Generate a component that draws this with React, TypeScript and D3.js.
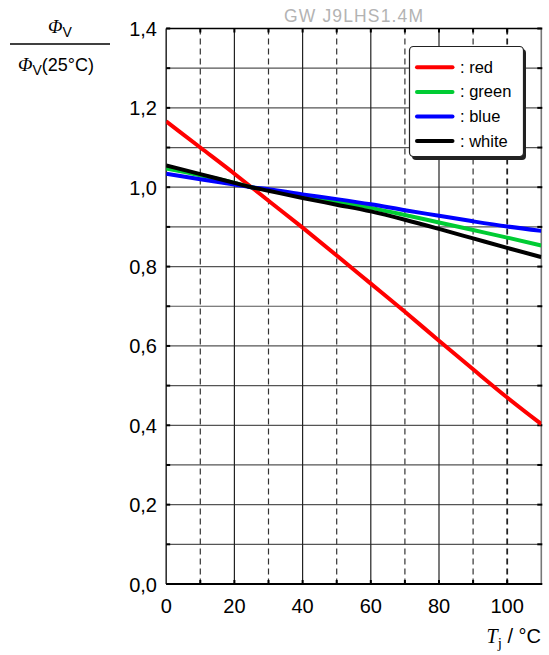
import React from "react";
import * as d3 from "d3";

const temps = [0, 10, 20, 25, 30, 40, 50, 60, 70, 80, 90, 100, 110];
const redValues = [1.166, 1.1, 1.034, 1.0, 0.966, 0.898, 0.828, 0.757, 0.686, 0.613, 0.541, 0.47, 0.403];
const greenValues = [1.047, 1.03, 1.011, 1.0, 0.993, 0.978, 0.963, 0.948, 0.93, 0.911, 0.892, 0.873, 0.853];
const blueValues = [1.034, 1.02, 1.007, 1.0, 0.995, 0.982, 0.97, 0.957, 0.942, 0.928, 0.914, 0.901, 0.89];
const whiteValues = [1.055, 1.033, 1.011, 1.0, 0.991, 0.973, 0.956, 0.939, 0.918, 0.895, 0.871, 0.847, 0.824];

const seriesNames = ["red", "green", "blue", "white"];
const seriesColors = ["#ff0000", "#00cc33", "#0000ff", "#000000"];
const seriesData = [redValues, greenValues, blueValues, whiteValues];

const xTicks = [0, 20, 40, 60, 80, 100];
const xGrid = [10, 20, 30, 40, 50, 60, 70, 80, 90, 100];
const yTicks = [0, 0.2, 0.4, 0.6, 0.8, 1.0, 1.2, 1.4];
const yGrid = [0.1, 0.2, 0.3, 0.4, 0.5, 0.6, 0.7, 0.8, 0.9, 1.0, 1.1, 1.2, 1.3];
const yMinor = [0, 0.1, 0.2, 0.3, 0.4, 0.5, 0.6, 0.7, 0.8, 0.9, 1.0, 1.1, 1.2, 1.3, 1.4];
const title = "GW J9LHS1.4M";

const L = 166.2, R = 541.3, T = 28.5, B = 584;

export default function App() {
  const x = d3.scaleLinear().domain([0, 110]).range([L, R]);
  const y = d3.scaleLinear().domain([0, 1.4]).range([B, T]);
  const line = d3
    .line<number>()
    .x((_, i) => x(temps[i]))
    .y((d) => y(d))
    .curve(d3.curveMonotoneX);
  const fmt = (v: number) => v.toFixed(1).replace(".", ",");
  const sans = "'Liberation Sans', Arial, Helvetica, sans-serif";
  const serif = "'Liberation Serif', 'Times New Roman', serif";

  return (
    <svg width={549} height={655} style={{ position: "absolute", left: 0, top: 0 }}>
      <rect x={0} y={0} width={549} height={655} fill="#fff" />
      <defs>
        <clipPath id="plot">
          <rect x={L} y={T} width={R - L} height={B - T} />
        </clipPath>
      </defs>
      {/* title */}
      <text x={353.5} y={21.5} textAnchor="middle" fontFamily={sans} fontSize={17.5} fill="#b3b3b3" textLength={139} lengthAdjust="spacing">
        {title}
      </text>
      {/* horizontal grid */}
      {yGrid.map((v) => (
        <line key={"h" + v} x1={L} x2={R} y1={y(v)} y2={y(v)} stroke="#555" strokeWidth={1.2} />
      ))}
      {/* vertical grid */}
      {xGrid.map((v) => (
        <line
          key={"v" + v}
          x1={x(v)}
          x2={x(v)}
          y1={T}
          y2={B}
          stroke={v % 20 === 0 ? "#222" : "#333"}
          strokeWidth={v === 100 ? 1.8 : 1.2}
          strokeDasharray={v % 20 === 0 && v !== 100 ? undefined : "6,4"}
        />
      ))}
      {/* frame */}
      <line x1={L} x2={R} y1={T} y2={T} stroke="#000" strokeWidth={1.6} />
      <line x1={L} x2={R} y1={B} y2={B} stroke="#000" strokeWidth={2} />
      <line x1={L} x2={L} y1={T} y2={B} stroke="#333" strokeWidth={1.6} />
      <line x1={R} x2={R} y1={T} y2={B} stroke="#777" strokeWidth={1.6} />
      {/* ticks */}
      {yMinor.map((v) => (
        <g key={"t" + v}>
          <line x1={L} x2={L + 4} y1={y(v)} y2={y(v)} stroke="#000" strokeWidth={2} />
          <line x1={R - 4} x2={R + 1} y1={y(v)} y2={y(v)} stroke="#000" strokeWidth={2} />
        </g>
      ))}
      {xGrid.map((v) => (
        <g key={"xt" + v}>
          <line x1={x(v)} x2={x(v)} y1={T} y2={T + 4} stroke="#000" strokeWidth={2} />
          <line x1={x(v)} x2={x(v)} y1={B - 4} y2={B} stroke="#000" strokeWidth={2} />
        </g>
      ))}
      {/* curves */}
      <g clipPath="url(#plot)">
        {seriesData.map((d, i) => (
          <path key={seriesNames[i]} d={line(d) || ""} fill="none" stroke={seriesColors[i]} strokeWidth={4} />
        ))}
      </g>
      {/* y tick labels */}
      {yTicks.map((v) => (
        <text key={"yl" + v} x={157} y={y(v) + 7.5} textAnchor="end" fontFamily={sans} fontSize={20} fill="#000">
          {fmt(v)}
        </text>
      ))}
      {/* x tick labels */}
      {xTicks.map((v) => (
        <text key={"xl" + v} x={x(v)} y={613} textAnchor="middle" fontFamily={sans} fontSize={20} fill="#000">
          {v}
        </text>
      ))}
      {/* x axis title */}
      <text x={541} y={643} textAnchor="end" fontFamily={sans} fontSize={20} fill="#000">
        <tspan fontFamily={serif} fontStyle="italic">T</tspan>
        <tspan fontFamily={serif} fontSize={15} dy={5}>j</tspan>
        <tspan dy={-5}> / °C</tspan>
      </text>
      {/* y axis title */}
      <text x={60} y={33} textAnchor="middle" fontFamily={sans} fontSize={18} fill="#000">
        <tspan fontFamily={serif} fontStyle="italic" fontSize={19}>Φ</tspan>
        <tspan fontSize={14} dy={4}>V</tspan>
      </text>
      <line x1={10} x2={110} y1={44} y2={44} stroke="#000" strokeWidth={1.4} />
      <text x={18} y={71} fontFamily={sans} fontSize={18} fill="#000">
        <tspan fontFamily={serif} fontStyle="italic" fontSize={19}>Φ</tspan>
        <tspan fontSize={14} dy={4}>V</tspan>
        <tspan dy={-4}>(25°C)</tspan>
      </text>
      {/* legend */}
      <rect x={412} y={49} width={114} height={111} rx={4} fill="#222" />
      <rect x={409.5} y={46.5} width={114} height={110} rx={4} fill="#fff" stroke="#222" strokeWidth={1.2} />
      {seriesNames.map((n, i) => {
        const yy = 67.3 + i * 24.6;
        return (
          <g key={"lg" + n}>
            <line x1={417} x2={452.5} y1={yy} y2={yy} stroke={seriesColors[i]} strokeWidth={4} strokeLinecap="round" />
            <text x={460} y={yy + 5.5} fontFamily={sans} fontSize={16.5} fill="#000">
              {": " + n}
            </text>
          </g>
        );
      })}
    </svg>
  );
}
